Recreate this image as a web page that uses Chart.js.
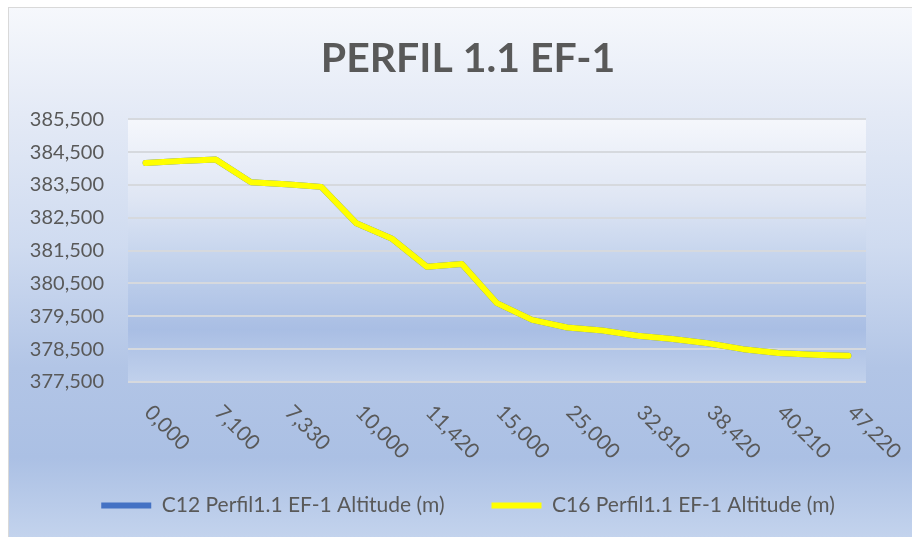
<!DOCTYPE html>
<html>
<head>
<meta charset="utf-8">
<script src="https://cdn.jsdelivr.net/npm/chart.js@4.4.1/dist/chart.umd.min.js"></script>
<style>
  html, body { margin: 0; padding: 0; background: #fff; }
  #wrap {
    position: absolute; left: 8px; top: 7px; width: 903px; height: 529px;
    border-left: 1px solid #d9d9d9; border-top: 1px solid #d9d9d9;
    background: linear-gradient(to bottom, #f6f8fc 0%, #e4eaf6 20%, #cfdbf0 45%, #b2c5e6 68%, #abc0e4 85%, #c3d3ed 100%);
  }
  canvas { display: block; }
</style>
</head>
<body>
<div id="wrap"><canvas id="myChart" width="903" height="529"></canvas></div>
<script>
// distancias (km) - only every other one is printed on the axis
var distances = [0.000, 5.000, 7.100, 7.200, 7.330, 8.660, 10.000, 10.710, 11.420, 13.210,
                 15.000, 20.000, 25.000, 28.900, 32.810, 35.620, 38.420, 39.320, 40.210, 43.720, 47.220];

var altitudeC12 = [384.17, 384.23, 384.27, 383.58, 383.52, 383.44, 382.33, 381.87, 381.01, 381.09,
                   379.90, 379.39, 379.16, 379.07, 378.91, 378.81, 378.68, 378.50, 378.38, 378.33, 378.30];
var altitudeC16 = [384.17, 384.23, 384.27, 383.58, 383.52, 383.44, 382.33, 381.87, 381.01, 381.09,
                   379.90, 379.39, 379.16, 379.07, 378.91, 378.81, 378.68, 378.50, 378.38, 378.33, 378.30];

var seriesNames = ["C12 Perfil1.1 EF-1 Altitude (m)", "C16 Perfil1.1 EF-1 Altitude (m)"];
var seriesColors = ["#4472C4", "#FFFF00"];

var yMin = 377.5, yMax = 385.5, yStep = 1;

var textColor = "#595959";
var fontName = "Lato";

function fmt(v) {
  return v.toFixed(3).replace(".", ",");
}

var labels = distances.map(fmt);

// plot area gradient
var plotBg = {
  id: "plotBg",
  beforeDraw: function(chart) {
    var a = chart.chartArea, ctx = chart.ctx;
    var g = ctx.createLinearGradient(0, a.top, 0, a.bottom);
    g.addColorStop(0, "#f5f7fc");
    g.addColorStop(0.3, "#dfe6f4");
    g.addColorStop(0.55, "#c2d2ec");
    g.addColorStop(0.8, "#a9bee4");
    g.addColorStop(1, "#c1d1ec");
    ctx.save();
    ctx.fillStyle = g;
    ctx.fillRect(a.left, a.top, a.right - a.left, a.bottom - a.top);
    ctx.restore();
  }
};

// x labels turned downwards, like excel does
var xLabels = {
  id: "xLabels",
  afterDraw: function(chart) {
    var xs = chart.scales.x, ctx = chart.ctx;
    ctx.save();
    ctx.font = "21px " + fontName;
    ctx.fillStyle = textColor;
    ctx.textAlign = "left";
    ctx.textBaseline = "middle";
    for (var i = 0; i < labels.length; i += 2) {
      var x = xs.getPixelForValue(i) + 2.5;
      var y = chart.chartArea.bottom + 27;
      ctx.save();
      ctx.translate(x, y);
      ctx.rotate(Math.PI / 4);
      ctx.fillText(labels[i], 0, 0);
      ctx.restore();
    }
    ctx.restore();
  }
};

function createChart() {
  var ctx = document.getElementById("myChart").getContext("2d");
  var chart = new Chart(ctx, {
    type: "line",
    data: {
      labels: labels,
      datasets: [{
        label: seriesNames[0],
        data: altitudeC12,
        borderColor: seriesColors[0],
        backgroundColor: seriesColors[0],
        borderWidth: 6,
        pointRadius: 0,
        borderJoinStyle: "round",
        borderCapStyle: "round",
        order: 2
      }, {
        label: seriesNames[1],
        data: altitudeC16,
        borderColor: seriesColors[1],
        backgroundColor: seriesColors[1],
        borderWidth: 6,
        pointRadius: 0,
        borderJoinStyle: "round",
        borderCapStyle: "round",
        order: 1
      }]
    },
    options: {
      responsive: false,
      animation: false,
      devicePixelRatio: 1,
      layout: { padding: { left: 15, right: 0, top: 0, bottom: 11 } },
      plugins: {
        tooltip: { enabled: false },
        title: {
          display: true,
          text: "PERFIL 1.1 EF-1",
          color: textColor,
          font: { family: fontName, size: 41, weight: "bold" },
          padding: { top: 26, bottom: 36 }
        },
        legend: {
          position: "bottom",
          labels: {
            color: textColor,
            font: { family: fontName, size: 21 },
            boxWidth: 50,
            boxHeight: 6,
            padding: 47,
            generateLabels: function(c) {
              return c.data.datasets.map(function(ds, i) {
                return {
                  text: ds.label,
                  fillStyle: ds.borderColor,
                  strokeStyle: ds.borderColor,
                  lineWidth: 0,
                  fontColor: textColor,
                  datasetIndex: i
                };
              });
            }
          }
        }
      },
      scales: {
        x: {
          offset: true,
          grid: { display: false },
          border: { display: false },
          ticks: { display: false },
          afterFit: function(s) { s.height = 66; }
        },
        y: {
          min: yMin,
          max: yMax,
          grid: { color: "#d6d9de", lineWidth: 2, drawTicks: false },
          border: { display: false },
          ticks: {
            stepSize: yStep,
            padding: 24,
            color: textColor,
            font: { family: fontName, size: 20 },
            callback: function(v) { return fmt(v); }
          },
          afterFit: function(s) { s.width = 104; }
        },
        yRight: {
          position: "right",
          grid: { display: false },
          border: { display: false },
          ticks: { display: false },
          afterFit: function(s) { s.width = 46; }
        }
      }
    },
    plugins: [plotBg, xLabels]
  });
  return chart;
}

createChart();
</script>
</body>
</html>
